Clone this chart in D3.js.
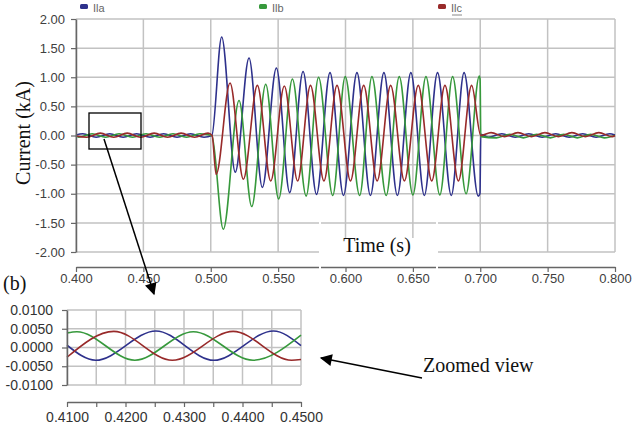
<!DOCTYPE html>
<html lang="en">
<head>
<meta charset="UTF-8">
<script src="https://cdn.jsdelivr.net/npm/d3@7"></script>
<style>
  html, body { margin: 0; padding: 0; background: #fff; }
  svg { display: block; }
  .sans { font-family: "Liberation Sans", Arial, sans-serif; }
  .serif { font-family: "Liberation Serif", "Times New Roman", serif; }
</style>
</head>
<body>
<div id="chart"></div>
<script>
// ---- data ----
const seriesNames = ['Ila', 'Ilb', 'Ilc'];
const seriesColours = ['#2e318c', '#37993c', '#982a2a'];

const mainXTicks = [0.40, 0.45, 0.50, 0.55, 0.60, 0.65, 0.70, 0.75, 0.80];
const mainYTicks = [2.0, 1.5, 1.0, 0.5, 0.0, -0.5, -1.0, -1.5, -2.0];
const zoomXTicks = [0.410, 0.415, 0.420, 0.425, 0.430, 0.435, 0.440, 0.445, 0.450];
const zoomYTicks = [0.010, 0.005, 0.000, -0.005, -0.010];

// [time (s), current (kA)] - turning points of each phase, full run
const iaMain = [
  [0.400, 0.01], [0.405, 0.03], [0.415, -0.03], [0.425, 0.03], [0.435, -0.03], [0.445, 0.03],
  [0.455, -0.03], [0.465, 0.03], [0.475, -0.03], [0.485, 0.03], [0.495, -0.03],
  [0.5008, 0.00], [0.5081, 1.69], [0.5182, -0.63], [0.5284, 1.33], [0.5383, -0.89], [0.5487, 1.16],
  [0.5586, -0.98], [0.5685, 1.10], [0.5785, -1.01], [0.5885, 1.08], [0.5985, -1.03], [0.6085, 1.08],
  [0.6185, -1.03], [0.6285, 1.08], [0.6385, -1.03], [0.6485, 1.08], [0.6585, -1.03], [0.6683, 1.08],
  [0.6785, -1.03], [0.6880, 1.08], [0.6985, -1.04], [0.6998, -1.00], [0.7004, 0.02],
  [0.706, -0.03], [0.716, 0.03], [0.726, -0.03], [0.736, 0.03], [0.746, -0.03], [0.756, 0.03],
  [0.766, -0.03], [0.776, 0.03], [0.786, -0.03], [0.796, 0.03], [0.800, 0.01]
];
const ibMain = [
  [0.400, 0.00], [0.402, -0.03], [0.412, 0.03], [0.422, -0.03], [0.432, 0.03], [0.442, -0.03],
  [0.452, 0.03], [0.462, -0.03], [0.472, 0.03], [0.482, -0.03], [0.492, 0.03],
  [0.5008, 0.00], [0.5093, -1.61], [0.5210, 0.60], [0.5304, -1.22], [0.5408, 0.88], [0.5504, -1.09],
  [0.5606, 0.97], [0.5708, -1.04], [0.5800, 1.00], [0.5905, -1.03], [0.5998, 1.01], [0.6105, -1.03],
  [0.6196, 1.01], [0.6302, -1.03], [0.6399, 1.01], [0.6500, -1.02], [0.6597, 1.01], [0.6700, -1.02],
  [0.6795, 1.01], [0.6895, -1.00], [0.6993, 1.02], [0.6999, 0.96], [0.7004, -0.02],
  [0.712, -0.04], [0.722, 0.02], [0.732, -0.04], [0.742, 0.02], [0.752, -0.04], [0.762, 0.02],
  [0.772, -0.04], [0.782, 0.02], [0.792, -0.04], [0.800, 0.00]
];
const icMain = [
  [0.400, -0.01], [0.408, -0.03], [0.418, 0.04], [0.428, -0.03], [0.438, 0.04], [0.448, -0.03],
  [0.458, 0.04], [0.468, -0.03], [0.478, 0.04], [0.488, -0.03], [0.498, 0.04],
  [0.5010, 0.00], [0.5040, -0.67], [0.5143, 0.90], [0.5242, -0.75], [0.5346, 0.86], [0.5445, -0.78],
  [0.5546, 0.85], [0.5645, -0.78], [0.5740, 0.86], [0.5840, -0.78], [0.5937, 0.86], [0.6037, -0.78],
  [0.6135, 0.86], [0.6235, -0.78], [0.6335, 0.86], [0.6437, -0.78], [0.6540, 0.86], [0.6640, -0.78],
  [0.6738, 0.86], [0.6838, -0.78], [0.6936, 0.86], [0.7004, 0.00],
  [0.708, 0.05], [0.718, -0.02], [0.728, 0.05], [0.738, -0.02], [0.748, 0.05], [0.758, -0.02],
  [0.768, 0.05], [0.778, -0.02], [0.788, 0.05], [0.798, -0.02], [0.800, 0.00]
];

// zoomed view, 0.41 - 0.45 s (kA)
const iaZoom = [[0.4100, 0.0006], [0.4149, -0.0034], [0.4252, 0.0044], [0.4351, -0.0034], [0.4453, 0.0044], [0.4500, 0.0005]];
const ibZoom = [[0.4100, 0.0039], [0.4117, 0.0042], [0.4216, -0.0034], [0.4316, 0.0042], [0.4418, -0.0034], [0.4500, 0.0033]];
const icZoom = [[0.4100, -0.0026], [0.4180, 0.0043], [0.4280, -0.0034], [0.4384, 0.0043], [0.4484, -0.0034], [0.4500, -0.0032]];

// ---- drawing ----
const width = 644, height = 432;
const gridColour = '#c2c2c2', axisColour = '#666';

const svg = d3.select('#chart').append('svg')
  .attr('width', width).attr('height', height);

const x = d3.scaleLinear().domain([0.4, 0.8]).range([76, 615]);
const y = d3.scaleLinear().domain([-2, 2]).range([252, 19]);
const xz = d3.scaleLinear().domain([0.41, 0.45]).range([67, 301]);
const yz = d3.scaleLinear().domain([-0.01, 0.01]).range([385, 310]);

function grid(g, xs, ys, xTicks, yTicks) {
  g.selectAll('line.h').data(yTicks).join('line')
    .attr('class', 'h')
    .attr('x1', xs.range()[0]).attr('x2', xs.range()[1])
    .attr('y1', d => ys(d)).attr('y2', d => ys(d))
    .attr('stroke', gridColour).attr('stroke-width', 1.5);
  g.selectAll('line.v').data(xTicks).join('line')
    .attr('class', 'v')
    .attr('x1', d => xs(d)).attr('x2', d => xs(d))
    .attr('y1', ys.range()[0]).attr('y2', ys.range()[1])
    .attr('stroke', gridColour).attr('stroke-width', 1.5);
}

function traces(g, xs, ys, series) {
  const line = d3.line()
    .x(d => xs(d[0])).y(d => ys(d[1]))
    .curve(d3.curveMonotoneX);
  g.selectAll('path.trace').data(series).join('path')
    .attr('class', 'trace')
    .attr('d', line)
    .attr('fill', 'none')
    .attr('stroke', (d, i) => seriesColours[i])
    .attr('stroke-width', 1.6)
    .attr('stroke-linejoin', 'round');
}

function styleAxis(g, size, colour) {
  g.attr('color', axisColour);
  g.select('.domain').attr('stroke-width', 1.5);
  g.selectAll('.tick line').attr('stroke-width', 1.2);
  g.selectAll('.tick text')
    .attr('class', 'sans')
    .attr('fill', colour)
    .style('font-size', size + 'px');
}

// main chart
const main = svg.append('g');
grid(main.append('g'), x, y, mainXTicks, mainYTicks);
traces(main.append('g'), x, y, [iaMain, ibMain, icMain]);

main.append('g')
  .attr('transform', 'translate(76,0)')
  .call(d3.axisLeft(y).tickValues(mainYTicks).tickFormat(d => d.toFixed(2))
    .tickSize(5).tickSizeOuter(0).tickPadding(6))
  .call(g => styleAxis(g, 13, '#404040'));

main.append('g')
  .attr('transform', 'translate(0,267)')
  .call(d3.axisBottom(x).tickValues(mainXTicks).tickFormat(d => d.toFixed(3))
    .tickSize(5).tickSizeOuter(0).tickPadding(2))
  .call(g => styleAxis(g, 13, '#404040'));

// legend
const legend = svg.append('g');
const legendX = [80, 259, 438];
seriesNames.forEach((name, i) => {
  legend.append('rect')
    .attr('x', legendX[i]).attr('y', 4).attr('width', 8).attr('height', 5)
    .attr('rx', 1.5).attr('fill', seriesColours[i]);
  legend.append('text')
    .attr('class', 'sans')
    .attr('x', legendX[i] + 13).attr('y', 12)
    .attr('fill', '#666').style('font-size', '11px')
    .text(name);
});
legend.append('line')
  .attr('x1', 452).attr('x2', 462).attr('y1', 15).attr('y2', 15)
  .attr('stroke', '#888').attr('stroke-width', 1);

// y title
svg.append('text')
  .attr('class', 'serif')
  .attr('transform', 'translate(30,133) rotate(-90)')
  .attr('text-anchor', 'middle')
  .attr('fill', '#111').style('font-size', '20px')
  .text('Current (kA)');

// pasted "Time (s)" label with its white patch
svg.append('rect')
  .attr('x', 321).attr('y', 238).attr('width', 115).attr('height', 26)
  .attr('fill', '#fff');
svg.selectAll('line.cut').data([320, 437]).join('line')
  .attr('class', 'cut')
  .attr('x1', d => d).attr('x2', d => d).attr('y1', 222).attr('y2', 271)
  .attr('stroke', '#fff').attr('stroke-width', 2);
svg.append('text')
  .attr('class', 'serif')
  .attr('x', 377).attr('y', 252)
  .attr('text-anchor', 'middle')
  .attr('fill', '#111').style('font-size', '20px')
  .text('Time (s)');

// zoomed view
const zoom = svg.append('g');
grid(zoom.append('g'), xz, yz, zoomXTicks, zoomYTicks);
traces(zoom.append('g'), xz, yz, [iaZoom, ibZoom, icZoom]);

zoom.append('g')
  .attr('transform', 'translate(67,0)')
  .call(d3.axisLeft(yz).tickValues(zoomYTicks).tickFormat(d => d.toFixed(4))
    .tickSize(5).tickSizeOuter(0).tickPadding(9))
  .call(g => styleAxis(g, 14, '#333'));

zoom.append('g')
  .attr('transform', 'translate(0,402)')
  .call(d3.axisBottom(xz).tickValues(zoomXTicks)
    .tickFormat((d, i) => i % 2 === 0 ? d.toFixed(4) : '')
    .tickSize(5).tickSizeOuter(0).tickPadding(5))
  .call(g => styleAxis(g, 14, '#333'));

// annotations
svg.append('defs').append('marker')
  .attr('id', 'head')
  .attr('viewBox', '0 0 10 10')
  .attr('refX', 9).attr('refY', 5)
  .attr('markerWidth', 14).attr('markerHeight', 12)
  .attr('markerUnits', 'userSpaceOnUse')
  .attr('orient', 'auto')
  .append('path').attr('d', 'M0,0L10,5L0,10Z').attr('fill', '#000');

svg.append('rect')
  .attr('x', 89).attr('y', 113).attr('width', 52).attr('height', 36)
  .attr('fill', 'none').attr('stroke', '#000').attr('stroke-width', 1.3);

svg.append('line')
  .attr('x1', 104).attr('y1', 139).attr('x2', 154).attr('y2', 294)
  .attr('stroke', '#000').attr('stroke-width', 1.5)
  .attr('marker-end', 'url(#head)');

svg.append('line')
  .attr('x1', 422).attr('y1', 378).attr('x2', 321).attr('y2', 358)
  .attr('stroke', '#000').attr('stroke-width', 1.5)
  .attr('marker-end', 'url(#head)');

svg.append('text')
  .attr('class', 'serif')
  .attr('x', 3).attr('y', 290)
  .attr('fill', '#111').style('font-size', '20px')
  .text('(b)');

svg.append('text')
  .attr('class', 'serif')
  .attr('x', 423).attr('y', 372)
  .attr('fill', '#111').style('font-size', '20px')
  .text('Zoomed view');
</script>
</body>
</html>
